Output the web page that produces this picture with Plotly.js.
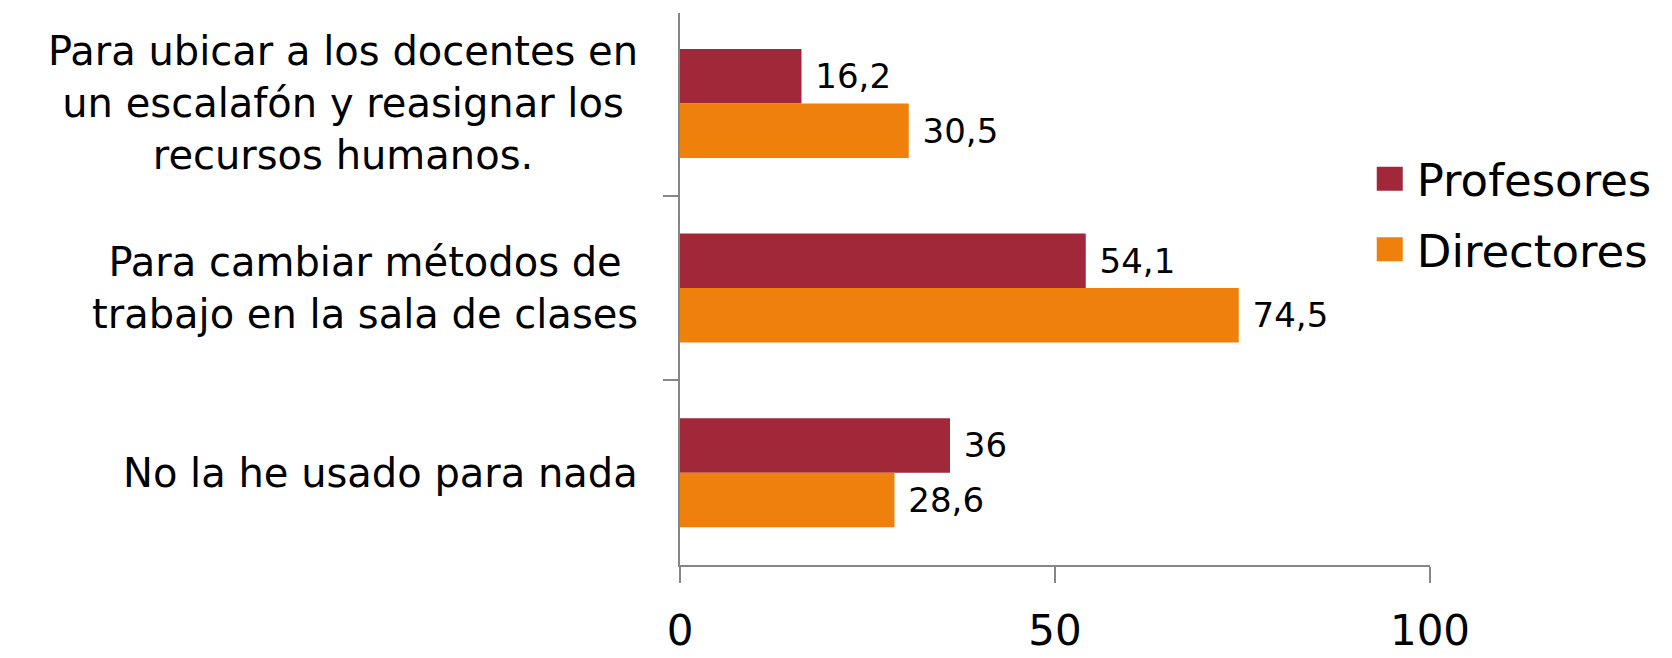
<!DOCTYPE html>
<html>
<head>
<meta charset="utf-8">
<script src="https://cdn.plot.ly/plotly-3.0.1.min.js"></script>
<style>
  html, body { margin: 0; padding: 0; background: #fff; }
  #chart { width: 1672px; height: 658px; }
</style>
</head>
<body>
<div id="chart"></div>
<script>
// ---- data ----
const categories = [
  "Para ubicar a los docentes en<br>un escalafón y reasignar los<br>recursos humanos.",
  "Para cambiar métodos de<br>trabajo en la sala de clases",
  "No la he usado para nada"
];
const profesores = [16.2, 54.1, 36];
const directores = [30.5, 74.5, 28.6];
const xTicks = [0, 50, 100];

const fontFam = "DejaVu Sans, Verdana, sans-serif";
const axisGray = "#868686";

// decimal comma, small gap before the number
const fmt = v => "\u00a0" + String(v).replace(".", ",");

const traces = [
  {
    name: "Profesores",
    legendgroup: "prof",
    type: "bar",
    orientation: "h",
    y: categories,
    x: profesores,
    marker: { color: "#A02838" },
    text: profesores.map(fmt),
    textposition: "outside",
    textfont: { size: 34, color: "#000", family: fontFam },
    constraintext: "none",
    cliponaxis: false,
    hoverinfo: "skip"
  },
  {
    name: "Directores",
    legendgroup: "dir",
    type: "bar",
    orientation: "h",
    y: categories,
    x: directores,
    marker: { color: "#EF800C" },
    text: directores.map(fmt),
    textposition: "outside",
    textfont: { size: 34, color: "#000", family: fontFam },
    constraintext: "none",
    cliponaxis: false,
    hoverinfo: "skip"
  }
];

const layout = {
  width: 1672,
  height: 658,
  margin: { l: 680, r: 242, t: 13, b: 93 },
  paper_bgcolor: "#fff",
  plot_bgcolor: "#fff",
  font: { family: fontFam, color: "#000" },
  barmode: "group",
  bargap: 0.41,
  bargroupgap: 0,
  showlegend: true,
  xaxis: {
    range: [0, 100],
    tickvals: xTicks,
    ticks: "outside",
    ticklen: 16,
    tickwidth: 2,
    tickcolor: axisGray,
    showline: true,
    linecolor: axisGray,
    linewidth: 2,
    showgrid: false,
    zeroline: false,
    tickfont: { size: 42, color: "#000" },
    ticklabelstandoff: 12,
    fixedrange: true
  },
  yaxis: {
    type: "category",
    range: [2.5, -0.49],
    tickson: "boundaries",
    ticks: "outside",
    ticklen: 15,
    tickwidth: 2,
    tickcolor: axisGray,
    showline: true,
    linecolor: axisGray,
    linewidth: 2,
    showgrid: false,
    zeroline: false,
    showticklabels: false,
    fixedrange: true
  },
  legend: {
    x: 0.929,
    y: 0.636,
    xanchor: "left",
    yanchor: "middle",
    font: { size: 45, color: "#000" },
    tracegroupgap: 9,
    bgcolor: "rgba(0,0,0,0)"
  },
  // category labels: centred lines, like the original
  annotations: categories.map(c => ({
    xref: "paper",
    yref: "y",
    x: 0,
    y: c,
    xanchor: "right",
    xshift: -40,
    text: c,
    align: "center",
    showarrow: false,
    font: { size: 40, color: "#000" }
  }))
};

// legend squares are much bigger in the original
function bigSwatches() {
  document.querySelectorAll("#chart .legendpoints path").forEach(p => {
    p.setAttribute("d", "M6,12H-22V-12H6Z");
  });
}

Plotly.newPlot("chart", traces, layout, { displayModeBar: false, staticPlot: true })
  .then(bigSwatches);
</script>
</body>
</html>
